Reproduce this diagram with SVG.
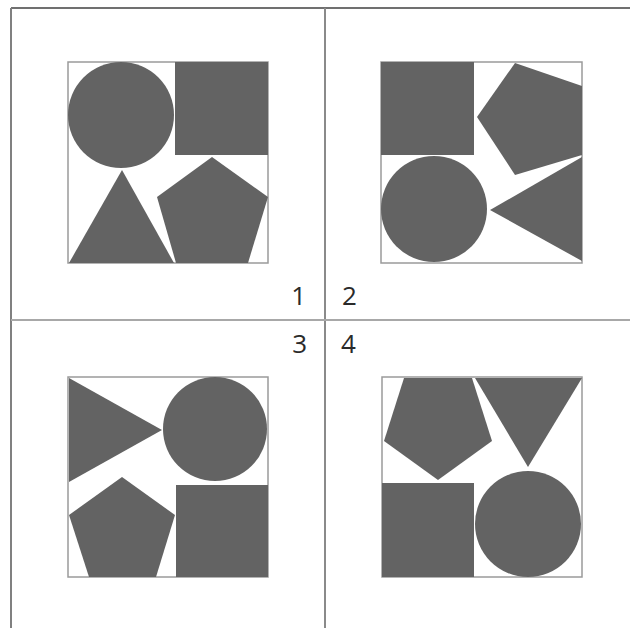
<svg xmlns="http://www.w3.org/2000/svg" width="630" height="628" viewBox="0 0 630 628">
<style>
.f{fill:#636363}
.box{fill:none;stroke:#9a9a9a;stroke-width:1.5}
.div{stroke:#8a8a8a;stroke-width:2;fill:none}
.lbl{font-family:"Open Sans","Liberation Sans",sans-serif;font-size:26px;fill:#2a2a2a}
</style>
<rect width="630" height="628" fill="#fff"/>
<g id="frame">
<line class="div" x1="11" y1="8" x2="630" y2="8" style="stroke:#707070"/>
<line class="div" x1="11" y1="8" x2="11" y2="628" style="stroke:#808080"/>
<line class="div" x1="325" y1="8" x2="325" y2="628"/>
<line class="div" x1="11" y1="320" x2="630" y2="320" style="stroke:#a8a8a8"/>
</g>
<g id="q1">
<rect class="box" x="68" y="62" width="200" height="201"/>
<circle class="f" cx="121" cy="115" r="53"/>
<rect class="f" x="175" y="62" width="93" height="93"/>
<polygon class="f" points="122,170 69,263 174,263"/>
<polygon class="f" points="212,157 268,197 248,263 176,263 157,197"/>
<text class="lbl" x="306" y="305" text-anchor="end">1</text>
</g>
<g id="q2">
<rect class="box" x="381" y="62" width="201" height="201"/>
<rect class="f" x="381" y="62" width="93" height="93"/>
<polygon class="f" points="515,63 582,86 582,155 515,175 477,117"/>
<polygon class="f" points="490,210 582,157 582,261"/>
<circle class="f" cx="434" cy="209" r="53"/>
<text class="lbl" x="342" y="305">2</text>
</g>
<g id="q3">
<rect class="box" x="68" y="377" width="200" height="200"/>
<polygon class="f" points="69,378 162,430 69,482"/>
<circle class="f" cx="215" cy="429" r="52"/>
<rect class="f" x="176" y="485" width="92" height="92"/>
<polygon class="f" points="122,477 175,515 156,577 89,577 69,515"/>
<text class="lbl" x="307" y="353" text-anchor="end">3</text>
</g>
<g id="q4">
<rect class="box" x="382" y="377" width="200" height="200"/>
<polygon class="f" points="404,378 472,378 492,441 438,480 384,441"/>
<polygon class="f" points="475,378 582,378 528,467"/>
<circle class="f" cx="528" cy="524" r="53"/>
<rect class="f" x="382" y="483" width="92" height="94"/>
<text class="lbl" x="341" y="353">4</text>
</g>
</svg>
